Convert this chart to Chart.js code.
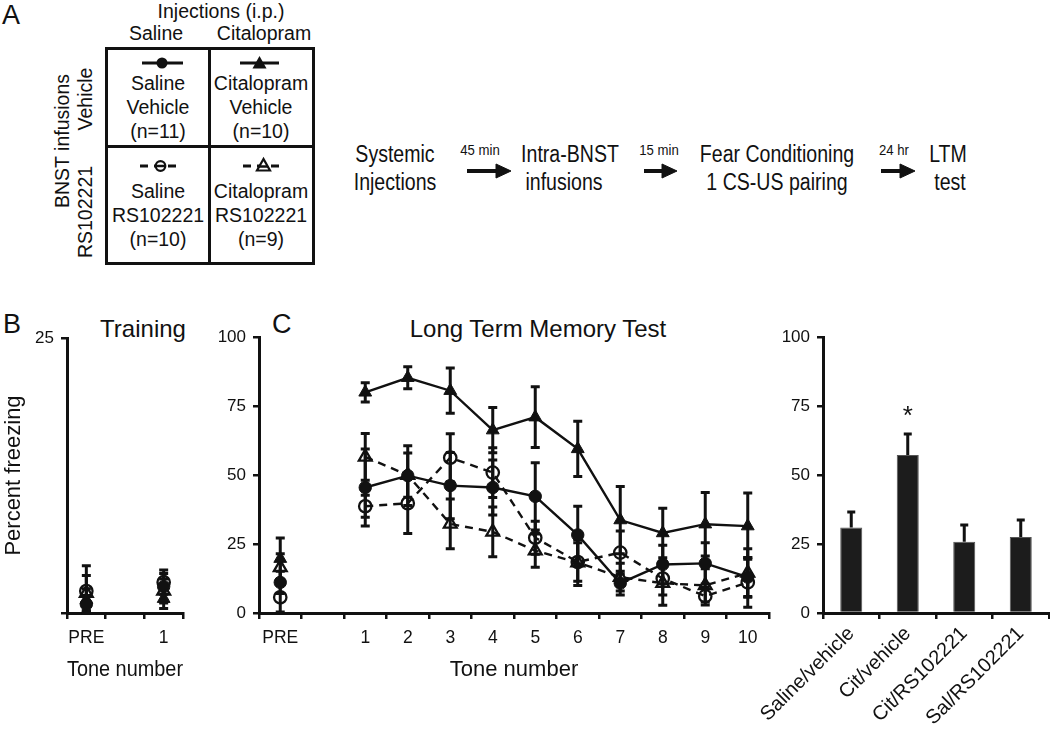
<!DOCTYPE html>
<html>
<head>
<meta charset="utf-8">
<script src="https://cdn.jsdelivr.net/npm/chart.js@4.4.1/dist/chart.umd.min.js"></script>
<style>
html,body{margin:0;padding:0;background:#fff;}
body{width:1050px;height:731px;position:relative;overflow:hidden;font-family:"Liberation Sans",Arial,sans-serif;color:#111;}
.t{position:absolute;white-space:nowrap;line-height:1;transform:translate(-50%,-50%);}
.n{position:absolute;white-space:nowrap;line-height:1;transform:translate(-50%,-50%) scaleX(0.85);}
.v{position:absolute;white-space:nowrap;line-height:1;transform:translate(-50%,-50%) rotate(-90deg);}
.box{position:absolute;box-sizing:border-box;border:3px solid #111;}
.ln{position:absolute;background:#111;}
canvas{position:absolute;}
.f19{font-size:19.5px;}
.f22{font-size:23px;}
.f14{font-size:15.5px;}
.lab{position:absolute;font-size:27px;line-height:1;}
</style>
</head>
<body>
<!-- Panel A -->
<div class="lab" style="left:2px;top:2px;">A</div>
<div class="t f19" style="left:221px;top:12px;">Injections (i.p.)</div>
<div class="t f19" style="left:156px;top:34px;">Saline</div>
<div class="t f19" style="left:264px;top:34px;">Citalopram</div>
<div class="v f19" style="left:63px;top:141px;">BNST infusions</div>
<div class="v f19" style="left:86px;top:99px;">Vehicle</div>
<div class="v f19" style="left:86px;top:212px;">RS102221</div>
<div class="box" style="left:105px;top:47px;width:210px;height:218px;"></div>
<div class="ln" style="left:208px;top:47px;width:3px;height:218px;"></div>
<div class="ln" style="left:105px;top:145px;width:210px;height:3px;"></div>
<div class="t f19" style="left:158px;top:84px;">Saline</div>
<div class="t f19" style="left:158px;top:108px;">Vehicle</div>
<div class="t f19" style="left:158px;top:132px;">(n=11)</div>
<div class="t f19" style="left:261px;top:84px;">Citalopram</div>
<div class="t f19" style="left:261px;top:108px;">Vehicle</div>
<div class="t f19" style="left:261px;top:132px;">(n=10)</div>
<div class="t f19" style="left:158px;top:192px;">Saline</div>
<div class="t f19" style="left:158px;top:216px;">RS102221</div>
<div class="t f19" style="left:158px;top:240px;">(n=10)</div>
<div class="t f19" style="left:261px;top:192px;">Citalopram</div>
<div class="t f19" style="left:261px;top:216px;">RS102221</div>
<div class="t f19" style="left:261px;top:240px;">(n=9)</div>
<svg width="1050" height="300" style="position:absolute;left:0;top:0;">
  <g stroke="#111" stroke-width="3" fill="none">
    <line x1="142" y1="63" x2="183" y2="63"/>
    <line x1="240" y1="63" x2="279" y2="63"/>
    <line x1="140" y1="166" x2="181" y2="166" stroke-dasharray="8,6"/>
    <line x1="243" y1="166" x2="284" y2="166" stroke-dasharray="8,6"/>
  </g>
  <circle cx="162" cy="63" r="5.5" fill="#111"/>
  <polygon points="259.5,56 252.5,68.5 266.5,68.5" fill="#111"/>
  <circle cx="160.5" cy="166" r="4.8" fill="#fff" stroke="#111" stroke-width="2.2"/>
  <line x1="156" y1="166" x2="165" y2="166" stroke="#111" stroke-width="2.5"/>
  <polygon points="263.5,159 257,170.5 270,170.5" fill="#fff" stroke="#111" stroke-width="2.2"/>
  <line x1="259" y1="166.5" x2="268" y2="166.5" stroke="#111" stroke-width="2.5"/>
  <g fill="#111" stroke="#111">
    <line x1="467" y1="171" x2="498" y2="171" stroke-width="4"/>
    <polygon points="496,164 511,171 496,178"/>
    <line x1="644" y1="171" x2="664" y2="171" stroke-width="4"/>
    <polygon points="662,164 677,171 662,178"/>
    <line x1="881" y1="171" x2="902" y2="171" stroke-width="4"/>
    <polygon points="900,164 915,171 900,178"/>
  </g>
</svg>
<div class="n f22" style="left:395px;top:154px;">Systemic</div>
<div class="n f22" style="left:395px;top:182px;">Injections</div>
<div class="n f14" style="left:480px;top:150px;">45 min</div>
<div class="n f22" style="left:570px;top:154px;">Intra-BNST</div>
<div class="n f22" style="left:564px;top:182px;">infusions</div>
<div class="n f14" style="left:659px;top:150px;">15 min</div>
<div class="n f22" style="left:777px;top:154px;">Fear Conditioning</div>
<div class="n f22" style="left:777px;top:182px;">1 CS-US pairing</div>
<div class="n f14" style="left:894px;top:150px;">24 hr</div>
<div class="n f22" style="left:948px;top:154px;">LTM</div>
<div class="n f22" style="left:950px;top:182px;">test</div>

<!-- Panel labels and titles -->
<div class="lab" style="left:3px;top:311px;">B</div>
<div class="t" style="left:143px;top:329px;font-size:24px;">Training</div>
<div class="lab" style="left:272px;top:311px;">C</div>
<div class="t" style="left:538px;top:329px;font-size:24px;">Long Term Memory Test</div>

<canvas id="train" width="195" height="370" style="left:0;top:320px;"></canvas>
<canvas id="ltm" width="590" height="370" style="left:190px;top:320px;"></canvas>
<canvas id="bars" width="305" height="411" style="left:745px;top:320px;"></canvas>

<script>
// ---------- DATA ----------
const trainingLabels = ['PRE', '', '1'];
const trainSalVeh    = [0.8, null, 2.4];
const trainSalVehErr = [0.8, null, 1.2];
const trainCitVeh    = [1.2, null, 1.3];
const trainCitVehErr = [1.0, null, 0.9];
const trainSalRS     = [2.0, null, 2.8];
const trainSalRSErr  = [2.3, null, 1.1];
const trainCitRS     = [1.8, null, 2.0];
const trainCitRSErr  = [1.6, null, 1.1];

const toneLabels = ['PRE', '', '1', '2', '3', '4', '5', '6', '7', '8', '9', '10'];
const ltmSalVeh    = [11.1, null, 45.5, 49.8, 46.2, 45.5, 42.3, 28.3, 10.8, 17.6, 18.0, 13.0];
const ltmSalVehErr = [4.0, null, 14.0, 10.8, 12.0, 10.0, 12.2, 10.4, 4.3, 7.0, 7.5, 7.0];
const ltmCitVeh    = [19.7, null, 80.0, 85.3, 80.6, 66.3, 71.0, 59.5, 33.7, 29.0, 32.2, 31.5];
const ltmCitVehErr = [7.5, null, 3.5, 4.0, 8.2, 8.2, 11.0, 10.0, 12.2, 9.0, 11.5, 12.0];
const ltmSalRS     = [5.7, null, 38.7, 39.8, 56.3, 50.9, 27.3, 18.5, 21.9, 12.5, 6.1, 11.1];
const ltmSalRSErr  = [5.3, null, 4.0, 11.0, 8.7, 9.0, 6.0, 7.0, 7.8, 6.0, 3.2, 9.0];
const ltmCitRS     = [16.5, null, 56.6, 50.0, 32.3, 29.4, 22.6, 18.3, 13.0, 10.8, 10.0, 14.5];
const ltmCitRSErr  = [5.0, null, 8.5, 8.0, 9.0, 9.0, 6.0, 8.3, 5.0, 8.0, 6.0, 8.8];

const barLabels = ['Saline/vehicle', 'Cit/vehicle', 'Cit/RS102221', 'Sal/RS102221'];
const barMeans  = [31.0, 57.3, 25.8, 27.6];
const barErrors = [5.6, 7.6, 6.1, 6.1];
const barSignificance = ['', '*', '', ''];

// ---------- STYLE ----------
const INK = '#111';
Chart.defaults.font.family = '"Liberation Sans", Arial, sans-serif';
Chart.defaults.color = INK;

const errorBarPlugin = {
  id: 'errorBars',
  draw(chart, when) {
    const o = chart.options.plugins.errorBars || {};
    if ((o.drawTime || 'before') !== when) return;
    const ctx = chart.ctx;
    const y = chart.scales.y;
    ctx.save();
    ctx.strokeStyle = INK;
    ctx.lineWidth = o.lineWidth || 2.5;
    ctx.setLineDash([]);
    chart.data.datasets.forEach((ds, di) => {
      if (!ds.errors) return;
      const meta = chart.getDatasetMeta(di);
      ds.data.forEach((v, i) => {
        const e = ds.errors[i];
        if (v == null || e == null) return;
        const x = meta.data[i].x;
        const yTop = y.getPixelForValue(v + e);
        const yBot = o.upOnly ? y.getPixelForValue(v) : y.getPixelForValue(Math.max(v - e, 0));
        const cw = (o.capWidth || 8) / 2;
        ctx.beginPath();
        ctx.moveTo(x, yTop); ctx.lineTo(x, yBot);
        ctx.moveTo(x - cw, yTop); ctx.lineTo(x + cw, yTop);
        if (!o.upOnly) { ctx.moveTo(x - cw, yBot); ctx.lineTo(x + cw, yBot); }
        ctx.stroke();
      });
    });
    ctx.restore();
  },
  beforeDatasetsDraw(chart) { this.draw(chart, 'before'); },
  afterDatasetsDraw(chart) { this.draw(chart, 'after'); }
};

const sigPlugin = {
  id: 'sigMarks',
  afterDatasetsDraw(chart) {
    const o = chart.options.plugins.sigMarks;
    if (!o || !o.marks) return;
    const ctx = chart.ctx, y = chart.scales.y, meta = chart.getDatasetMeta(0);
    const ds = chart.data.datasets[0];
    ctx.save();
    ctx.fillStyle = INK;
    ctx.font = '26px "Liberation Sans", Arial, sans-serif';
    ctx.textAlign = 'center';
    ctx.textBaseline = 'alphabetic';
    o.marks.forEach((m, i) => {
      if (!m) return;
      const top = y.getPixelForValue(ds.data[i] + (ds.errors ? ds.errors[i] : 0));
      ctx.fillText(m, meta.data[i].x, top - 10);
    });
    ctx.restore();
  }
};

function series(label, data, errors, filled, shape, dashed) {
  return {
    label, data, errors,
    borderColor: INK,
    backgroundColor: INK,
    borderWidth: 2.4,
    borderDash: dashed ? [8, 6] : [],
    pointStyle: shape,
    pointRadius: shape === 'triangle' ? 7.4 : 6.2,
    pointBorderWidth: filled ? 1 : 2.3,
    pointBackgroundColor: filled ? INK : 'rgba(255,255,255,0)',
    pointBorderColor: INK,
    pointHoverRadius: 6,
    spanGaps: false,
    tension: 0
  };
}

function xAxis(title, height, tickSize) {
  return {
    type: 'category', offset: true,
    grid: { offset: true, drawOnChartArea: false, drawTicks: true, tickLength: 6, color: INK, lineWidth: 2.5 },
    border: { display: true, color: INK, width: 3 },
    ticks: { font: { size: tickSize || 17 }, color: INK, padding: 9, maxRotation: 0, minRotation: 0, autoSkip: false },
    title: { display: !!title, text: title, font: { size: 22 }, color: INK, padding: { top: 0, bottom: 7 } },
    afterFit(s) { s.height = height; }
  };
}

function yAxis(max, width, titleText, callback) {
  return {
    min: 0, max,
    grid: { drawOnChartArea: false, drawTicks: true, tickLength: 6, color: INK, lineWidth: 2.5 },
    border: { display: true, color: INK, width: 3 },
    ticks: { stepSize: 25, font: { size: 17 }, color: INK, padding: 7, callback: callback || (v => v) },
    title: { display: !!titleText, text: titleText, font: { size: 22 }, color: INK, padding: { top: 1, bottom: 0 } },
    afterFit(s) { s.width = width; }
  };
}

const common = {
  responsive: false, animation: false, devicePixelRatio: 1,
  events: [],
  plugins: { legend: { display: false }, tooltip: { enabled: false } }
};

// Panel B: training
new Chart(document.getElementById('train'), {
  type: 'line',
  data: {
    labels: trainingLabels,
    datasets: [
      Object.assign(series('Saline/Vehicle', trainSalVeh, trainSalVehErr, true, 'circle', false), { showLine: false }),
      Object.assign(series('Citalopram/Vehicle', trainCitVeh, trainCitVehErr, true, 'triangle', false), { showLine: false }),
      Object.assign(series('Saline/RS102221', trainSalRS, trainSalRSErr, false, 'circle', true), { showLine: false }),
      Object.assign(series('Citalopram/RS102221', trainCitRS, trainCitRSErr, false, 'triangle', true), { showLine: false })
    ]
  },
  options: Object.assign({}, common, {
    layout: { padding: { top: 18, right: 12, left: 0, bottom: 0 } },
    plugins: Object.assign({}, common.plugins, { errorBars: { drawTime: 'before', capWidth: 9, lineWidth: 3 } }),
    scales: {
      x: xAxis('Tone number', 77, 17.5),
      y: yAxis(25, 67, 'Percent freezing', v => (v === 25 ? '25' : ''))
    }
  }),
  plugins: [errorBarPlugin]
});

// Panel C: long term memory test
new Chart(document.getElementById('ltm'), {
  type: 'line',
  data: {
    labels: toneLabels,
    datasets: [
      series('Saline/Vehicle', ltmSalVeh, ltmSalVehErr, true, 'circle', false),
      series('Citalopram/Vehicle', ltmCitVeh, ltmCitVehErr, true, 'triangle', false),
      series('Saline/RS102221', ltmSalRS, ltmSalRSErr, false, 'circle', true),
      series('Citalopram/RS102221', ltmCitRS, ltmCitRSErr, false, 'triangle', true)
    ]
  },
  options: Object.assign({}, common, {
    layout: { padding: { top: 14, right: 11, left: 0, bottom: 0 } },
    plugins: Object.assign({}, common.plugins, { errorBars: { drawTime: 'before', capWidth: 9, lineWidth: 3 } }),
    scales: {
      x: xAxis('Tone number', 77, 17.5),
      y: yAxis(100, 69, '')
    }
  }),
  plugins: [errorBarPlugin]
});

// Bar chart
new Chart(document.getElementById('bars'), {
  type: 'bar',
  data: {
    labels: barLabels,
    datasets: [{
      label: 'LTM mean',
      data: barMeans,
      errors: barErrors,
      backgroundColor: '#1c1c1c',
      borderColor: '#555',
      borderWidth: 1,
      barPercentage: 0.39,
      categoryPercentage: 1
    }]
  },
  options: Object.assign({}, common, {
    layout: { padding: { top: 13, right: 1, left: 0, bottom: 0 } },
    plugins: Object.assign({}, common.plugins, {
      errorBars: { drawTime: 'after', upOnly: true, capWidth: 8, lineWidth: 3 },
      sigMarks: { marks: barSignificance }
    }),
    scales: {
      x: Object.assign(xAxis('', 118, 20), {
        ticks: { font: { size: 20 }, color: INK, padding: 3, minRotation: 45, maxRotation: 45, autoSkip: false }
      }),
      y: yAxis(100, 78, '')
    }
  }),
  plugins: [errorBarPlugin, sigPlugin]
});
</script>
</body>
</html>
